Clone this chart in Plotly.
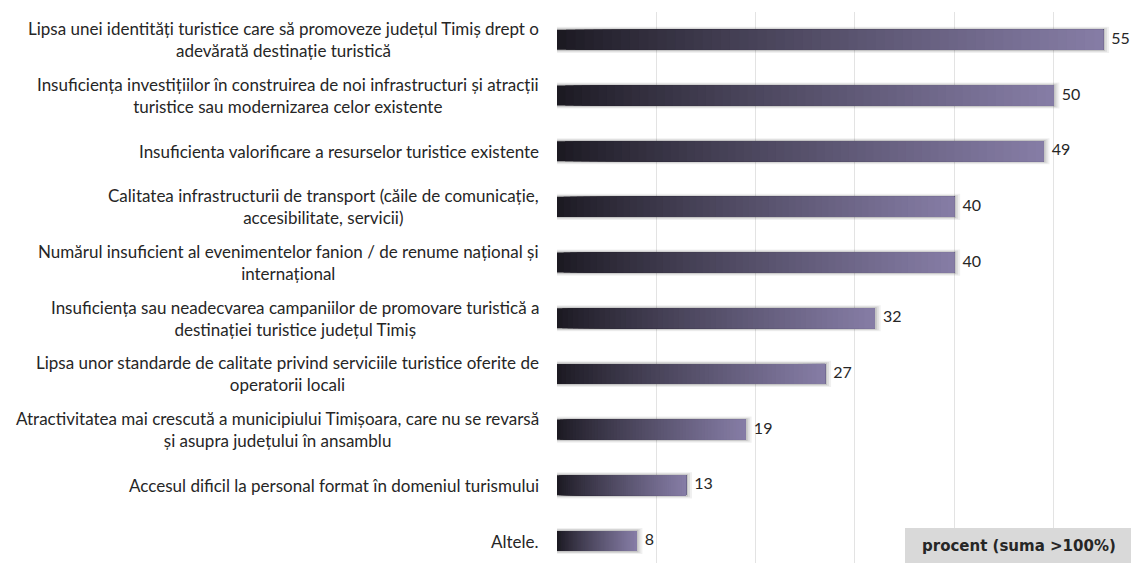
import plotly.graph_objects as go

labels = [
    "Lipsa unei identități turistice care să promoveze județul Timiș drept o<br>adevărată destinație turistică",
    "Insuficiența investițiilor în construirea de noi infrastructuri și atracții<br>turistice sau modernizarea celor existente",
    "Insuficienta valorificare a resurselor turistice existente",
    "Calitatea infrastructurii de transport (căile de comunicație,<br>accesibilitate, servicii)",
    "Numărul insuficient al evenimentelor fanion / de renume național și<br>internațional",
    "Insuficiența sau neadecvarea campaniilor de promovare turistică a<br>destinației turistice județul Timiș",
    "Lipsa unor standarde de calitate privind serviciile turistice oferite de<br>operatorii locali",
    "Atractivitatea mai crescută a municipiului Timișoara, care nu se revarsă<br>și asupra județului în ansamblu",
    "Accesul dificil la personal format în domeniul turismului",
    "Altele.",
]
values = [55, 50, 49, 40, 40, 32, 27, 19, 13, 8]
grid_ticks = [0, 10, 20, 30, 40, 50]
unit_label = "procent (suma >100%)"

# the page body adds an 8px margin, so the figure starts at (8, 8)
OFF = 8
W, H = 1139, 563
L, T = 557 - OFF, 12 - OFF
plot_right = 1134 - OFF
plot_bottom = 563 - OFF
R, B = W - plot_right, H - plot_bottom
px_per_unit = 9.93

c0 = (26, 24, 32)
c1 = (134, 125, 166)
n_seg = 60


def mix(t):
    t = t ** 0.85
    r = [round(a + (b - a) * t) for a, b in zip(c0, c1)]
    return f"rgb({r[0]},{r[1]},{r[2]})"


fig = go.Figure()

# soft shadow behind the bars
for grow, w, a in [(0.6, 0.47, 0.06), (0.4, 0.43, 0.08), (0.2, 0.40, 0.11)]:
    fig.add_trace(go.Bar(
        y=labels, x=[v + grow for v in values], base=0, orientation="h",
        width=w, marker=dict(color=f"rgba(0,0,0,{a})", line_width=0),
        hoverinfo="skip", showlegend=False,
    ))

# gradient bars: each layer starts further right and runs to the bar end
for k in range(n_seg):
    fig.add_trace(go.Bar(
        y=labels,
        x=[v * (1 - k / n_seg) for v in values],
        base=[v * k / n_seg for v in values],
        orientation="h", width=0.36,
        marker=dict(color=mix((k + 0.5) / n_seg), line_width=0),
        hoverinfo="skip", showlegend=False,
    ))

fig.add_trace(go.Scatter(
    y=labels, x=values, mode="text",
    text=[f"  {v}" for v in values], textposition="middle right",
    textfont=dict(family="Lato", size=16, color="#262626"),
    hoverinfo="skip", showlegend=False, cliponaxis=False,
))

for lab in labels:
    fig.add_annotation(
        x=0, xref="paper", xanchor="right", xshift=-16,
        y=lab, yref="y", yanchor="middle",
        text=lab, showarrow=False, align="center",
        font=dict(family="Lato", size=17, color="#262626"),
    )

pw = W - L - R
ph = H - T - B
bx0, bx1, by0, by1 = 905 - OFF, 1132 - OFF, 528 - OFF, 563 - OFF
fig.add_shape(
    type="rect", xref="paper", yref="paper",
    x0=(bx0 - L) / pw, x1=(bx1 - L) / pw,
    y0=(plot_bottom - by1) / ph, y1=(plot_bottom - by0) / ph,
    fillcolor="#d9d9d9", line_width=0, layer="above",
)
fig.add_annotation(
    xref="paper", yref="paper", xanchor="center", yanchor="middle",
    x=((bx0 + bx1) / 2 - L) / pw, y=(plot_bottom - (by0 + by1) / 2) / ph,
    text=f"<b>{unit_label}</b>", showarrow=False,
    font=dict(family="DejaVu Sans", size=15, color="#262626"),
)

fig.update_layout(
    width=W, height=H,
    margin=dict(l=L, r=R, t=T, b=B),
    barmode="overlay",
    plot_bgcolor="white", paper_bgcolor="white",
    xaxis=dict(range=[0, pw / px_per_unit], tickvals=grid_ticks, showticklabels=False,
               showgrid=True, gridcolor="#e3e3e3", gridwidth=1, zeroline=False),
    yaxis=dict(categoryorder="array", categoryarray=labels,
               range=[len(labels) - 1 + 0.395, -0.5],
               showticklabels=False, showgrid=False, zeroline=False),
)

fig.write_html("out.html")
